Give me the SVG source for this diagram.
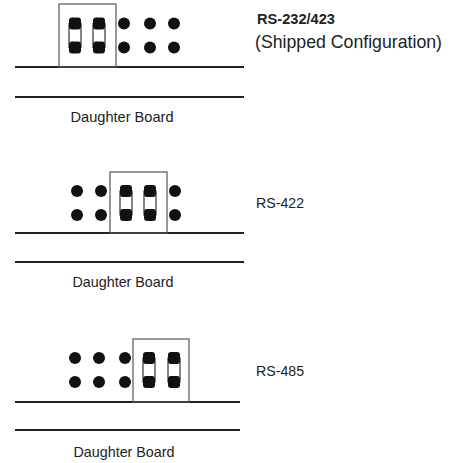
<svg xmlns="http://www.w3.org/2000/svg" width="459" height="463" viewBox="0 0 459 463">
<style>
.board{stroke:#222;stroke-width:2;fill:none}
.hdr{stroke:#555;stroke-width:1.2;fill:none}
.pin{fill:#111}
.jw{stroke:#333;stroke-width:1.2;fill:none}
.lbl{font-family:"Liberation Sans",Arial,sans-serif;font-size:14px;fill:#222}
.big{font-size:18.5px}
.db{font-family:"Liberation Sans",Arial,sans-serif;font-size:14.5px;fill:#222;text-anchor:middle}
</style>
<defs>
<g id="jumper">
<rect class="jw" x="-6" y="-12" width="12" height="24"/>
<rect class="pin" x="-6" y="-18" width="12" height="12" rx="3"/>
<rect class="pin" x="-6" y="6" width="12" height="12" rx="3"/>
</g>
<g id="pair">
<circle class="pin" cx="0" cy="-12" r="6"/>
<circle class="pin" cx="0" cy="12" r="6"/>
</g>
</defs>
<g id="connectors">
<line class="board" x1="15" y1="67" x2="244" y2="67"/>
<line class="board" x1="15" y1="97" x2="244" y2="97"/>
<line class="board" x1="15" y1="233" x2="244" y2="233"/>
<line class="board" x1="15" y1="262" x2="244" y2="262"/>
<line class="board" x1="15" y1="402" x2="240" y2="402"/>
<line class="board" x1="15" y1="430" x2="240" y2="430"/>
</g>
<g id="panel-rs232">
<rect class="hdr" x="59" y="4" width="57" height="63"/>
<use href="#jumper" x="75" y="35.5"/>
<use href="#jumper" x="99" y="35.5"/>
<use href="#pair" x="124" y="35.5"/>
<use href="#pair" x="150" y="35.5"/>
<use href="#pair" x="174" y="35.5"/>
<text class="lbl" x="257" y="24" font-weight="bold" textLength="78" lengthAdjust="spacingAndGlyphs">RS-232/423</text>
<text class="lbl big" x="255" y="48" textLength="187" lengthAdjust="spacingAndGlyphs">(Shipped Configuration)</text>
<text class="db" x="122" y="122" textLength="103" lengthAdjust="spacingAndGlyphs">Daughter Board</text>
</g>
<g id="panel-rs422">
<rect class="hdr" x="110" y="172" width="57" height="61"/>
<use href="#pair" x="77" y="203"/>
<use href="#pair" x="101" y="203"/>
<use href="#jumper" x="126" y="203"/>
<use href="#jumper" x="150" y="203"/>
<use href="#pair" x="175" y="203"/>
<text class="lbl" x="256" y="208" textLength="48" lengthAdjust="spacingAndGlyphs">RS-422</text>
<text class="db" x="123" y="287" textLength="101" lengthAdjust="spacingAndGlyphs">Daughter Board</text>
</g>
<g id="panel-rs485">
<rect class="hdr" x="133" y="339" width="56" height="63"/>
<use href="#pair" x="75" y="370"/>
<use href="#pair" x="99" y="370"/>
<use href="#pair" x="125" y="370"/>
<use href="#jumper" x="149" y="370"/>
<use href="#jumper" x="174" y="370"/>
<text class="lbl" x="256" y="376" textLength="48" lengthAdjust="spacingAndGlyphs">RS-485</text>
<text class="db" x="124" y="457" textLength="101" lengthAdjust="spacingAndGlyphs">Daughter Board</text>
</g>
</svg>
